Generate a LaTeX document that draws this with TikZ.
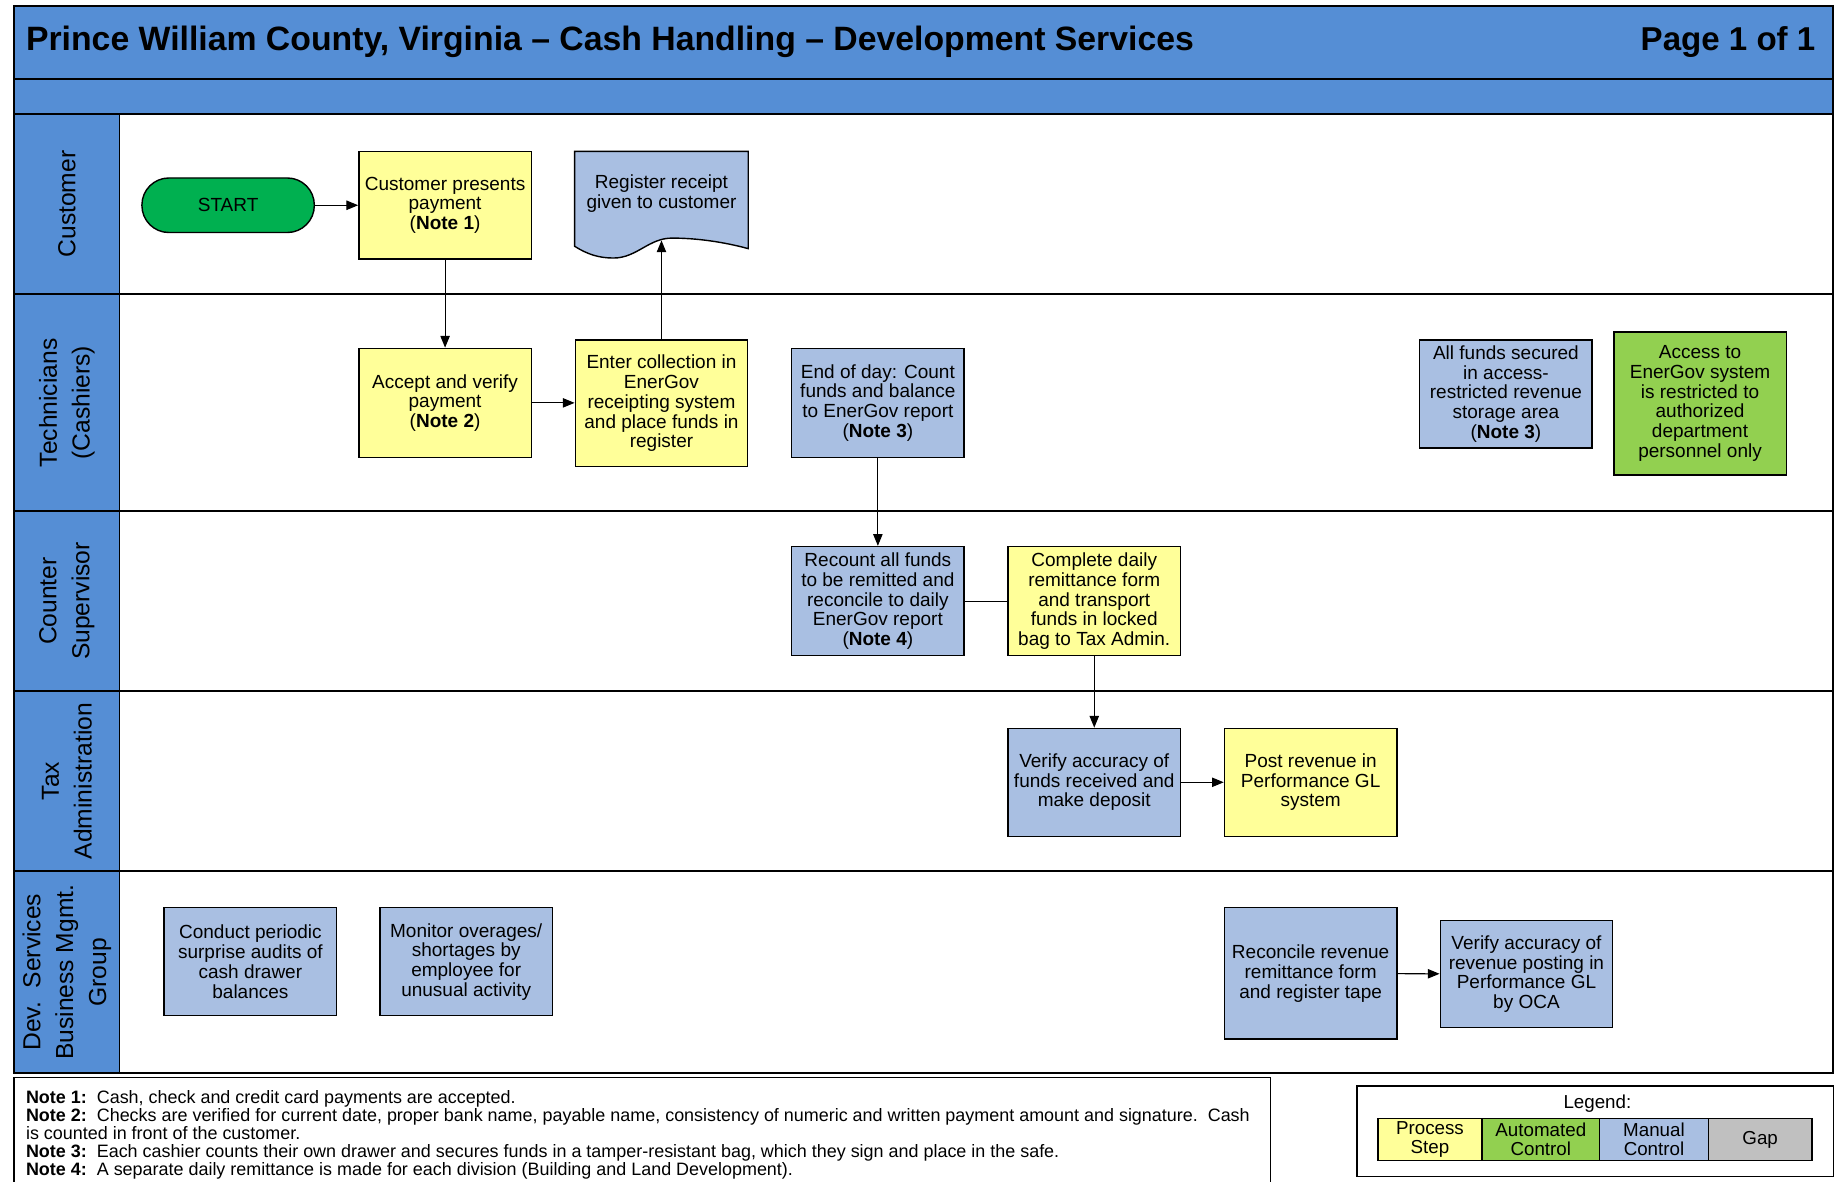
\documentclass[tikz,border=0pt]{standalone}
\usepackage{fontspec}
\setmainfont{Liberation Sans}
\usetikzlibrary{arrows.meta}
\definecolor{hdrblue}{RGB}{85,142,213}
\definecolor{mblue}{RGB}{169,191,226}
\definecolor{pyellow}{RGB}{255,255,153}
\definecolor{agreen}{RGB}{146,208,80}
\definecolor{sgreen}{RGB}{0,176,80}
\definecolor{gapgray}{RGB}{192,192,192}
\begin{document}
\begin{tikzpicture}[x=1pt,y=1pt,
  box/.style={draw, line width=1.2pt, minimum width=147pt, minimum height=92pt,
    align=center, inner sep=1pt, font=\fontsize{16.2}{16.8}\selectfont},
  proc/.style={fill=pyellow},
  man/.style={fill=mblue},
  autoc/.style={fill=agreen},
  lanelbl/.style={rotate=90, align=center, font=\fontsize{21}{28}\selectfont, inner sep=0pt},
  arr/.style={-{Triangle[length=10pt,width=8pt]}, line width=0.9pt},
  conn/.style={line width=0.9pt},
  sep/.style={line width=1.7pt},
  notetxt/.style={anchor=base west, inner sep=0pt, font=\fontsize{15.3}{15.5}\selectfont},
  legcell/.style={draw, line width=1.1pt, minimum height=36pt, inner sep=0pt, outer sep=0pt,
    align=center, font=\fontsize{16}{16.4}\selectfont}
]
\useasboundingbox (0,0) rectangle (1568,-1007);
\fill[white] (0,0) rectangle (1568,-1007);

% header bands
\fill[hdrblue] (12,-5) rectangle (1563,-97);
% lane label column
\fill[hdrblue] (12,-97) rectangle (102,-915);
% lanes frame
\draw[sep] (12,-5) rectangle (1563,-915);
\draw[sep] (12,-67) -- (1563,-67);
\draw[sep] (12,-97) -- (1563,-97);
\draw[sep] (12,-251) -- (1563,-251);
\draw[sep] (12,-436) -- (1563,-436);
\draw[sep] (12,-589) -- (1563,-589);
\draw[sep] (12,-743) -- (1563,-743);
\draw[line width=1pt] (102,-97) -- (102,-915);

\node[anchor=west, inner sep=0pt, font=\fontsize{28.8}{30}\selectfont\bfseries] (title) at (22,-36)
  {Prince William County, Virginia – Cash Handling – Development Services};
\node[anchor=east, inner sep=0pt, font=\fontsize{28.2}{30}\selectfont\bfseries] (page) at (1548,-36)
  {Page 1 of 1};

% lane labels
\node[lanelbl] (l1) at (57,-174) {Customer};
\node[lanelbl] (l2) at (57,-343.5) {Technicians\\(Cashiers)};
\node[lanelbl] (l3) at (57,-512.5) {Counter\\Supervisor};
\node[lanelbl] (l4) at (57,-666) {Tax\\Administration};
\node[lanelbl] (l5) at (57,-829) {Dev.~~Services\\Business Mgmt.\\Group};

% Customer lane
\node[draw, line width=1.2pt, fill=sgreen, rounded corners=23pt, minimum width=147pt,
  minimum height=46.5pt, font=\fontsize{16.2}{16.8}\selectfont] (start) at (194.5,-175) {START};
\node[box, proc] (cust) at (379.5,-175) {Customer presents\\payment\\(\textbf{Note 1})};
\draw[fill=mblue, line width=1.2pt] (490,-129) -- (638,-129) -- (638,-212)
  .. controls (616,-206) and (593,-203) .. (573,-203)
  .. controls (553,-203) and (543,-220) .. (523,-220)
  .. controls (511,-220) and (501,-217) .. (490,-210) -- cycle;
\coordinate (docb) at (564,-205);
\node[align=center, inner sep=0pt, font=\fontsize{16.2}{16.8}\selectfont] (doc) at (564,-165)
  {Register receipt\\given to customer};

% Technicians lane
\node[box, proc, minimum height=93pt] (accept) at (379.5,-343.5) {Accept and verify\\payment\\(\textbf{Note 2})};
\node[box, proc, minimum height=108pt] (enter) at (564,-344) {Enter collection in\\EnerGov\\receipting system\\and place funds in\\register};
\node[box, man, minimum height=93pt] (eod) at (748.5,-343.5) {End of day: Count\\funds and balance\\to EnerGov report\\(\textbf{Note 3})};
\node[box, man] (allf) at (1284,-336) {All funds secured\\in access-\\restricted revenue\\storage area\\(\textbf{Note 3})};
\node[box, autoc, minimum height=122pt] (access) at (1449.5,-344) {Access to\\EnerGov system\\is restricted to\\authorized\\department\\personnel only};

% Counter Supervisor lane
\node[box, man, minimum height=93pt] (recount) at (748.5,-512.5) {Recount all funds\\to be remitted and\\reconcile to daily\\EnerGov report\\(\textbf{Note 4})};
\node[box, proc, minimum height=93pt] (complete) at (933,-512.5) {Complete daily\\remittance form\\and transport\\funds in locked\\bag to Tax Admin.};

% Tax Administration lane
\node[box, man] (verf) at (933,-667) {Verify accuracy of\\funds received and\\make deposit};
\node[box, proc] (post) at (1117.5,-667) {Post revenue in\\Performance GL\\system};

% Dev services lane
\node[box, man] (conduct) at (213.5,-820) {Conduct periodic\\surprise audits of\\cash drawer\\balances};
\node[box, man] (monitor) at (397.5,-820) {Monitor overages/\\shortages by\\employee for\\unusual activity};
\node[box, man, minimum height=112pt] (recon) at (1117.5,-830) {Reconcile revenue\\remittance form\\and register tape};
\node[box, man, minimum height=91pt] (voca) at (1301.5,-830.5) {Verify accuracy of\\revenue posting in\\Performance GL\\by OCA};

% connectors
\draw[arr] (start) -- (cust);
\draw[arr] (cust) -- (accept);
\draw[arr] (accept.east) -- (accept.east -| enter.west);
\draw[arr] (enter.north) -- (docb);
\draw[arr] (eod) -- (recount);
\draw[conn] (recount) -- (complete);
\draw[arr] (complete) -- (verf);
\draw[arr] (verf) -- (post);
\draw[arr] (recon) -- (voca);

% notes
\draw[line width=1.1pt] (12,-919) rectangle (1083,-1012);
\node[notetxt] (n1) at (22,-940.5) {\textbf{Note 1:}\ \ Cash, check and credit card payments are accepted.};
\node[notetxt] (n2) at (22,-956) {\textbf{Note 2:}\ \ Checks are verified for current date, proper bank name, payable name, consistency of numeric and written payment amount and signature.\ \ Cash};
\node[notetxt] (n2b) at (22,-971.5) {is counted in front of the customer.};
\node[notetxt] (n3) at (22,-987) {\textbf{Note 3:}\ \ Each cashier counts their own drawer and secures funds in a tamper-resistant bag, which they sign and place in the safe.};
\node[notetxt] (n4) at (22,-1002.5) {\textbf{Note 4:}\ \ A separate daily remittance is made for each division (Building and Land Development).};

% legend
\draw[line width=1.1pt] (1157,-926) rectangle (1563,-1003);
\node[inner sep=0pt, font=\fontsize{16}{16.4}\selectfont] (legt) at (1362,-941) {Legend:};
\node[legcell, fill=pyellow, minimum width=88.5pt] (lg1) at (1219.25,-971.5) {Process\\Step};
\node[legcell, fill=agreen, minimum width=100.5pt] (lg2) at (1313.75,-971.5) {Automated\\Control};
\node[legcell, fill=mblue, minimum width=92.5pt] (lg3) at (1410.25,-971.5) {Manual\\Control};
\node[legcell, fill=gapgray, minimum width=88.5pt] (lg4) at (1500.75,-971.5) {Gap};
\end{tikzpicture}
\end{document}
